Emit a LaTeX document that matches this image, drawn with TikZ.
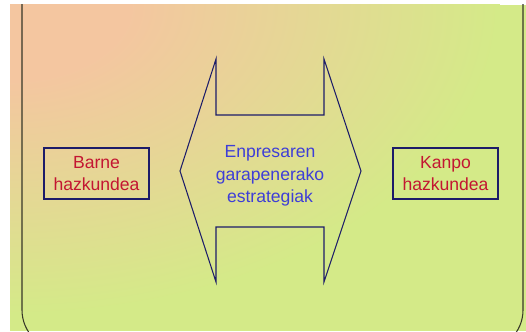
\documentclass[tikz,border=0pt]{standalone}
\usepackage{fontspec}
\setmainfont{Liberation Sans}
\usepackage{tikz}
\usetikzlibrary{positioning}

\definecolor{peach}{RGB}{244,198,160}
\definecolor{lime}{RGB}{212,234,136}
\definecolor{frameline}{RGB}{55,55,40}
\definecolor{navy}{RGB}{28,28,105}
\definecolor{wine}{RGB}{195,22,50}
\definecolor{lilac}{RGB}{62,62,215}

% warm corner fading into green
\pgfdeclareradialshading{cornerglow}{\pgfpoint{0bp}{0bp}}{color(0bp)=(peach); color(6bp)=(peach); color(25bp)=(lime); color(50bp)=(lime)}

\begin{document}
\begin{tikzpicture}[x=0.02cm, y=-0.02cm, node distance=4.86cm,
    box/.style = {draw=navy, line width=0.6pt, minimum width=2.1cm, minimum height=1.02cm, inner sep=0pt, align=center, text=wine},
    txt/.style = {font=\fontsize{10}{12.4}\selectfont}]

\useasboundingbox (0,0) rectangle (526,331);

% background and frame
\begin{scope}
\clip (10,5) rectangle (526,331);
\fill[lime] (10,5) rectangle (526,331);
\shade[shading=cornerglow] (10,5) ellipse (9.8cm and 6.2cm);
\draw[frameline, line width=0.6pt, rounded corners=0.8cm] (22,-60) rectangle (523,350);
\end{scope}

% double arrow in the middle
\draw[navy, line width=0.6pt, line join=miter]
    (216,59) -- (216,115) -- (324,115) -- (324,59) -- (361,171) -- (324,282)
    -- (324,227) -- (216,227) -- (216,282) -- (180,171) -- cycle;

\node[txt, text=lilac, align=center, font=\fontsize{10}{12.8}\selectfont] (strat) at (270,176) {Enpresaren\\garapenerako\\estrategiak};

\node[box, txt] (barne) at (96.5,173.5) {Barne\\hazkundea};
\node[box, txt] (kanpo) [right=of barne] {Kanpo\\hazkundea};
\end{tikzpicture}
\end{document}
